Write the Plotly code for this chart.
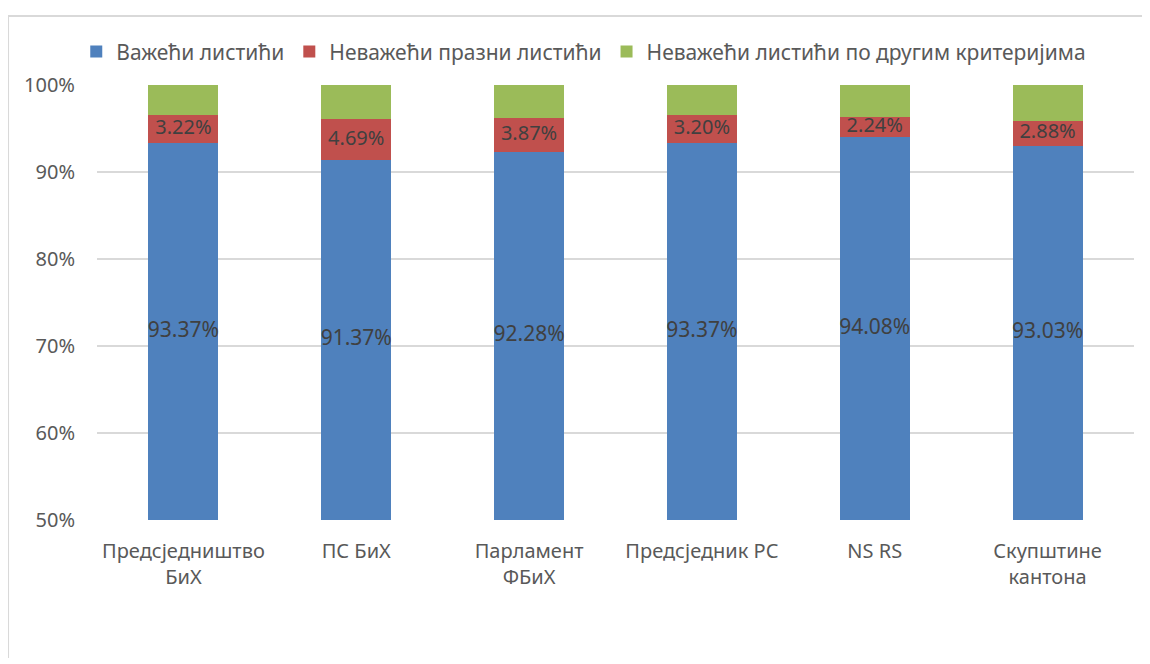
import plotly.graph_objects as go

categories = ["Предсједништво<br>БиХ", "ПС БиХ", "Парламент<br>ФБиХ", "Предсједник РС", "NS RS", "Скупштине<br>кантона"]
valid = [93.37, 91.37, 92.28, 93.37, 94.08, 93.03]
invalid_blank = [3.22, 4.69, 3.87, 3.20, 2.24, 2.88]
invalid_other = [round(100 - v - b, 2) for v, b in zip(valid, invalid_blank)]
series_names = ["Важећи листићи", "Неважећи празни листићи", "Неважећи листићи по другим критеријима"]
colors = ["#4F81BD", "#C0504D", "#9BBB59"]
y_min, y_max = 50, 100

FONT = "Noto Sans"
TXT = "#404040"

fig = go.Figure()
for name, vals, col in zip(series_names, [valid, invalid_blank, invalid_other], colors):
    fig.add_trace(go.Bar(x=categories, y=vals, name=name, marker=dict(color=col, line=dict(width=0)),
                         width=0.405))

# labels: centre of visible part of each segment
valid_pos = [(max(y_min, 0) + v) / 2 for v in valid]
blank_pos = [v + b / 2 for v, b in zip(valid, invalid_blank)]
fig.add_trace(go.Scatter(x=categories, y=valid_pos, mode="text", text=[f"{v:.2f}%" for v in valid],
                         textfont=dict(family=FONT, size=21, color=TXT), showlegend=False, hoverinfo="skip"))
fig.add_trace(go.Scatter(x=categories, y=blank_pos, mode="text", text=[f"{v:.2f}%" for v in invalid_blank],
                         textfont=dict(family=FONT, size=20, color=TXT), showlegend=False, hoverinfo="skip"))

fig.update_layout(
    barmode="stack",
    width=1142, height=656,
    margin=dict(l=89, r=16, t=77, b=144),
    paper_bgcolor="white", plot_bgcolor="white",
    font=dict(family=FONT, color="#595959", size=20),
    legend=dict(orientation="h", x=-0.02, xanchor="left", y=1.076, yanchor="middle",
                font=dict(size=21, color="#595959"), itemwidth=30, traceorder="normal",
                itemclick=False),
    showlegend=True,
)
fig.update_xaxes(showgrid=False, showline=False, ticks="", tickfont=dict(size=20, color="#595959"),
                 ticklabelstandoff=17)
fig.update_yaxes(range=[y_min, y_max], dtick=10, ticksuffix="%", showgrid=True, gridcolor="#D9D9D9",
                 gridwidth=1.5, zeroline=False, showline=False, tickfont=dict(size=20, color="#595959"),
                 ticklabelstandoff=21)
# outer chart frame (only top and left edges fall inside the picture)
fig.add_shape(type="line", xref="paper", yref="paper", x0=-0.0858, x1=1.0135, y0=1.1586, y1=1.1586,
              line=dict(color="#D9D9D9", width=2), layer="below")
fig.add_shape(type="line", xref="paper", yref="paper", x0=-0.0858, x1=-0.0858, y0=-0.3172, y1=1.1586,
              line=dict(color="#D9D9D9", width=2), layer="below")

fig.write_html("out.html")
